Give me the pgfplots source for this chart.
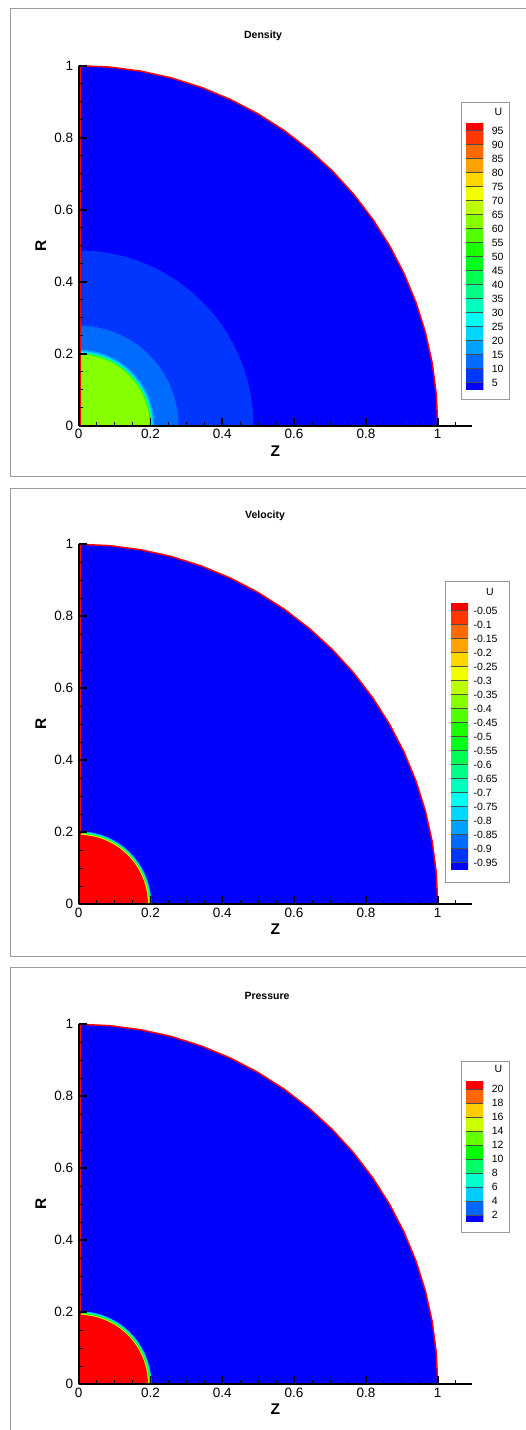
\documentclass[border=0pt]{standalone}
\usepackage{pgfplots}
\usepackage{pgfplotstable}
\pgfplotsset{compat=1.18}
\usepackage{fontspec}
\setmainfont{Liberation Sans}

\definecolor{framegray}{RGB}{155,155,155}
% 20-band small rainbow
\definecolor{a0}{RGB}{0,0,255}
\definecolor{a1}{RGB}{0,54,255}
\definecolor{a2}{RGB}{0,107,255}
\definecolor{a3}{RGB}{0,161,255}
\definecolor{a4}{RGB}{0,215,255}
\definecolor{a5}{RGB}{0,255,242}
\definecolor{a6}{RGB}{0,255,188}
\definecolor{a8}{RGB}{0,255,81}
\definecolor{a9}{RGB}{0,255,27}
\definecolor{a10}{RGB}{27,255,0}
\definecolor{a12}{RGB}{134,255,0}
\definecolor{a14}{RGB}{242,255,0}
\definecolor{a19}{RGB}{255,0,0}
% 11-band
\definecolor{b0}{RGB}{0,0,255}
\definecolor{b2}{RGB}{0,204,255}
\definecolor{b3}{RGB}{0,255,204}
\definecolor{b5}{RGB}{0,255,0}
\definecolor{b7}{RGB}{204,255,0}
\definecolor{b10}{RGB}{255,0,0}

\pgfplotsset{
  colormap={tec20}{rgb255=(0,0,255) rgb255=(0,54,255) rgb255=(0,107,255) rgb255=(0,161,255) rgb255=(0,215,255)
    rgb255=(0,255,242) rgb255=(0,255,188) rgb255=(0,255,134) rgb255=(0,255,81) rgb255=(0,255,27)
    rgb255=(27,255,0) rgb255=(81,255,0) rgb255=(134,255,0) rgb255=(188,255,0) rgb255=(242,255,0)
    rgb255=(255,215,0) rgb255=(255,161,0) rgb255=(255,107,0) rgb255=(255,54,0) rgb255=(255,0,0)},
  colormap={tec11}{rgb255=(0,0,255) rgb255=(0,102,255) rgb255=(0,204,255) rgb255=(0,255,204) rgb255=(0,255,102)
    rgb255=(0,255,0) rgb255=(102,255,0) rgb255=(204,255,0) rgb255=(255,204,0) rgb255=(255,102,0) rgb255=(255,0,0)},
}

% unit quarter circle, every 5 degrees
\pgfplotstableread{
c s
1 0
0.99619 0.08716
0.98481 0.17365
0.96593 0.25882
0.93969 0.34202
0.90631 0.42262
0.86603 0.5
0.81915 0.57358
0.76604 0.64279
0.70711 0.70711
0.64279 0.76604
0.57358 0.81915
0.5 0.86603
0.42262 0.90631
0.34202 0.93969
0.25882 0.96593
0.17365 0.98481
0.08716 0.99619
0 1
}\arcunit

% colour bar bands (20)
\pgfplotstableread{
x y c
0 0 0
1 0 0
1 1 0
0 1 0
0 1 1
1 1 1
1 2 1
0 2 1
0 2 2
1 2 2
1 3 2
0 3 2
0 3 3
1 3 3
1 4 3
0 4 3
0 4 4
1 4 4
1 5 4
0 5 4
0 5 5
1 5 5
1 6 5
0 6 5
0 6 6
1 6 6
1 7 6
0 7 6
0 7 7
1 7 7
1 8 7
0 8 7
0 8 8
1 8 8
1 9 8
0 9 8
0 9 9
1 9 9
1 10 9
0 10 9
0 10 10
1 10 10
1 11 10
0 11 10
0 11 11
1 11 11
1 12 11
0 12 11
0 12 12
1 12 12
1 13 12
0 13 12
0 13 13
1 13 13
1 14 13
0 14 13
0 14 14
1 14 14
1 15 14
0 15 14
0 15 15
1 15 15
1 16 15
0 16 15
0 16 16
1 16 16
1 17 16
0 17 16
0 17 17
1 17 17
1 18 17
0 18 17
0 18 18
1 18 18
1 19 18
0 19 18
0 19 19
1 19 19
1 20 19
0 20 19
}\bandsA

% colour bar bands (11)
\pgfplotstableread{
x y c
0 0 0
1 0 0
1 1 0
0 1 0
0 1 1
1 1 1
1 2 1
0 2 1
0 2 2
1 2 2
1 3 2
0 3 2
0 3 3
1 3 3
1 4 3
0 4 3
0 4 4
1 4 4
1 5 4
0 5 4
0 5 5
1 5 5
1 6 5
0 6 5
0 6 6
1 6 6
1 7 6
0 7 6
0 7 7
1 7 7
1 8 7
0 8 7
0 8 8
1 8 8
1 9 8
0 9 8
0 9 9
1 9 9
1 10 9
0 10 9
0 10 10
1 10 10
1 11 10
0 11 10
}\bandsB

\newcommand{\qdisk}[2]{\addplot[draw=none, fill=#2] table[x expr=\thisrow{c}*#1, y expr=\thisrow{s}*#1] {\arcunit} \closedcycle;}

\pgfplotsset{
  mainax/.style={
    anchor=south west, scale only axis, width=393.1pt, height=360pt,
    xmin=0, xmax=1.095, ymin=0, ymax=1, clip=false,
    axis lines=left, axis line style={-, line width=2pt, black},
    axis on top, tick align=inside,
    xtick={0,0.2,0.4,0.6,0.8,1}, ytick={0,0.2,0.4,0.6,0.8,1},
    minor xtick={0.05,0.1,0.15,0.25,0.3,0.35,0.45,0.5,0.55,0.65,0.7,0.75,0.85,0.9,0.95,1.05},
    minor ytick={0.05,0.1,0.15,0.25,0.3,0.35,0.45,0.5,0.55,0.65,0.7,0.75,0.85,0.9,0.95},
    major tick length=8pt, minor tick length=4pt,
    major tick style={line width=1.8pt, black},
    minor tick style={line width=0.9pt, black},
    /pgf/number format/assume math mode=true,
    tick label style={font=\fontsize{13.5}{14}\selectfont},
    yticklabel style={xshift=-2pt},
    xlabel={Z}, ylabel={R},
    xlabel style={at={(axis description cs:0.5,-0.0694)}, anchor=center, font=\fontsize{15.5}{16}\selectfont\bfseries},
    ylabel style={at={(axis description cs:-0.0967,0.5)}, anchor=center, font=\fontsize{15.5}{16}\selectfont\bfseries},
    title style={anchor=center, yshift=-8pt, font=\fontsize{10.5}{12}\selectfont\bfseries},
  },
  cbax/.style={
    anchor=south west, scale only axis, xmin=0, xmax=1,
    axis line style={draw=none}, xtick=\empty,
    yticklabel pos=right, major tick length=0pt, tick style={draw=none},
    ymajorgrids, major grid style={black!70, line width=0.5pt},
    axis on top, colormap access=direct,
    yticklabel style={anchor=west, font=\fontsize{10.5}{11}\selectfont},
  },
}

\begin{document}
\begin{tikzpicture}[x=1pt,y=1pt]
\useasboundingbox (0,0) rectangle (526,1430);
\clip (0,0) rectangle (526,1430);
\fill[white] (0,0) rectangle (526,1430);
% panel frames
\draw[framegray, line width=1pt] (10,1421) rectangle (540,953);
\draw[framegray, line width=1pt] (10,941) rectangle (540,473);
\draw[framegray, line width=1pt] (10,462) rectangle (540,-20);
% colour bar boxes
\draw[framegray, line width=1pt] (461.7,1327.3) rectangle (509,1030);
\draw[framegray, line width=1pt] (445.7,848.3) rectangle (509,547.7);
\draw[framegray, line width=1pt] (461.7,368.3) rectangle (509,197.7);

% ---------------- Density ----------------
\begin{axis}[mainax, at={(78.7pt,1004.3pt)}, title={Density},
  title style={at={(axis description cs:0.469,1.088)}}]
\qdisk{1}{a0}
\qdisk{0.487}{a1}
\qdisk{0.278}{a2}
\qdisk{0.211}{a3}
\qdisk{0.207}{a4}
\qdisk{0.204}{a6}
\qdisk{0.201}{a9}
\qdisk{0.1985}{a12}
\addplot[red, line width=1.5pt] table[x=c, y=s] {\arcunit};
\addplot[red, line width=1.2pt] coordinates {(0.004,0) (0.004,1)};
\end{axis}
\begin{axis}[cbax, at={(465.7pt,1040.3pt)}, width=17.6pt, height=266pt,
  ymin=0.5, ymax=19.5, colormap name=tec20,
  ytick={1,2,3,4,5,6,7,8,9,10,11,12,13,14,15,16,17,18,19},
  yticklabels={5,10,15,20,25,30,35,40,45,50,55,60,65,70,75,80,85,90,95},
  yticklabel style={xshift=5pt}]
\addplot[patch, patch type=rectangle, shader=flat corner, point meta=explicit] table[x=x, y=y, meta=c] {\bandsA};
\end{axis}
\node[font=\fontsize{10.5}{11}\selectfont] at (498.3,1318.3) {U};

% ---------------- Velocity ----------------
\begin{axis}[mainax, at={(78.7pt,525.7pt)}, title={Velocity},
  title style={at={(axis description cs:0.474,1.085)}}]
\qdisk{1}{a0}
\qdisk{0.203}{a3}
\qdisk{0.2005}{a5}
\qdisk{0.198}{a10}
\qdisk{0.1955}{a14}
\qdisk{0.193}{a19}
\addplot[red, line width=1.5pt] table[x=c, y=s] {\arcunit};
\addplot[red, line width=1.2pt] coordinates {(0.004,0) (0.004,1)};
\end{axis}
\begin{axis}[cbax, at={(450.7pt,560.3pt)}, width=17.3pt, height=266pt,
  ymin=0.5, ymax=19.5, colormap name=tec20,
  ytick={1,2,3,4,5,6,7,8,9,10,11,12,13,14,15,16,17,18,19},
  yticklabels={-0.95,-0.9,-0.85,-0.8,-0.75,-0.7,-0.65,-0.6,-0.55,-0.5,-0.45,-0.4,-0.35,-0.3,-0.25,-0.2,-0.15,-0.1,-0.05},
  yticklabel style={xshift=2pt}]
\addplot[patch, patch type=rectangle, shader=flat corner, point meta=explicit] table[x=x, y=y, meta=c] {\bandsA};
\end{axis}
\node[font=\fontsize{10.5}{11}\selectfont] at (490,838) {U};

% ---------------- Pressure ----------------
\begin{axis}[mainax, at={(78.7pt,45.7pt)}, title={Pressure},
  title style={at={(axis description cs:0.479,1.085)}}]
\qdisk{1}{b0}
\qdisk{0.203}{b2}
\qdisk{0.2005}{b3}
\qdisk{0.198}{b5}
\qdisk{0.1955}{b7}
\qdisk{0.193}{b10}
\addplot[red, line width=1.5pt] table[x=c, y=s] {\arcunit};
\addplot[red, line width=1.2pt] coordinates {(0.004,0) (0.004,1)};
\end{axis}
\begin{axis}[cbax, at={(465.7pt,208pt)}, width=17.6pt, height=140pt,
  ymin=0.5, ymax=10.5, colormap name=tec11,
  ytick={1,2,3,4,5,6,7,8,9,10},
  yticklabels={2,4,6,8,10,12,14,16,18,20},
  yticklabel style={xshift=5pt}]
\addplot[patch, patch type=rectangle, shader=flat corner, point meta=explicit] table[x=x, y=y, meta=c] {\bandsB};
\end{axis}
\node[font=\fontsize{10.5}{11}\selectfont] at (498.3,360.7) {U};
\end{tikzpicture}
\end{document}
